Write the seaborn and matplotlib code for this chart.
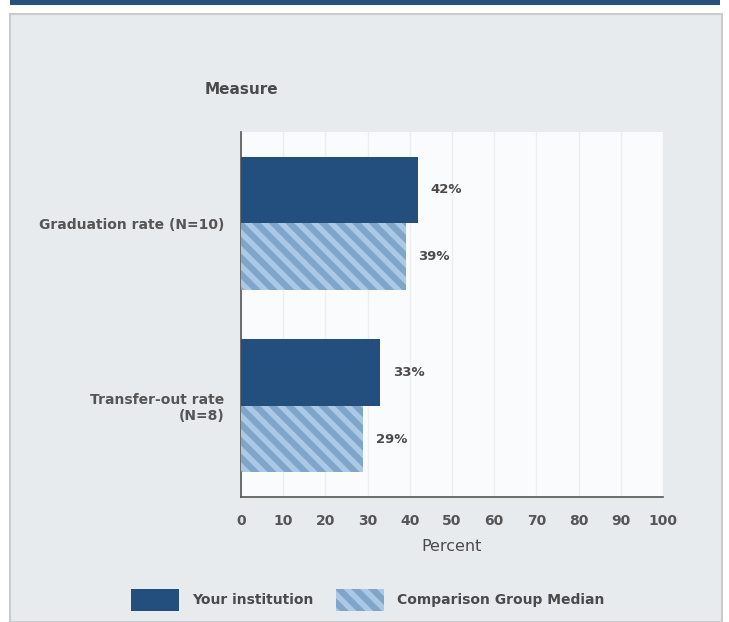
import seaborn as sns
import matplotlib.pyplot as plt
import pandas as pd
from matplotlib.patches import Rectangle, Patch

# -------------------------------
# Data
# -------------------------------
measures = ["Graduation rate (N=10)", "Transfer-out rate\n(N=8)"]
groups = ["Your institution", "Comparison Group Median"]
your_values = [42, 33]
median_values = [39, 29]
x_ticks = [0, 10, 20, 30, 40, 50, 60, 70, 80, 90, 100]

df = pd.DataFrame({
    "Measure": measures * 2,
    "Group": [groups[0]] * 2 + [groups[1]] * 2,
    "Percent": your_values + median_values,
})

dark = "#234f7f"
light = "#a9c9e6"
stripe = "#7fa6c9"
text_col = "#4a4a4a"

sns.set_theme(style="white")
plt.rcParams["font.family"] = ["DejaVu Sans"]
plt.rcParams["hatch.linewidth"] = 4.5

fig = plt.figure(figsize=(7.29, 6.22), dpi=100)
fig.patch.set_facecolor("white")

# grey panel and top stripe (behind the axes)
fig.patches.append(Rectangle((10 / 729, 0), 712 / 729, 608 / 622, transform=fig.transFigure,
                             facecolor="#e8ebee", edgecolor="#cbcbcb", lw=1.5, zorder=-10))
fig.patches.append(Rectangle((10 / 729, 617 / 622), 710 / 729, 5 / 622, transform=fig.transFigure,
                             facecolor="#25507f", edgecolor="none", zorder=-10))

ax = fig.add_axes([241 / 729, 125 / 622, 422 / 729, 365 / 622])
ax.set_facecolor("#fafbfc")

sns.barplot(data=df, y="Measure", x="Percent", hue="Group", orient="h",
            palette=[dark, light], saturation=1, width=0.73, ax=ax, legend=False, zorder=3)

# hatch the comparison bars
for bar in ax.containers[1]:
    bar.set_hatch("\\\\")
    bar.set_edgecolor(stripe)
    bar.set_linewidth(0)
for bar in ax.containers[0]:
    bar.set_edgecolor(dark)
    bar.set_linewidth(0)

for cont in ax.containers:
    ax.bar_label(cont, fmt="%.0f%%", padding=9, fontsize=9.5, fontweight="bold", color=text_col)

ax.set_xlim(0, 100)
ax.set_ylim(1.5, -0.5)
ax.set_xticks(x_ticks)
ax.set_xticklabels([str(t) for t in x_ticks], fontsize=10, fontweight="bold", color="#555555")
ax.tick_params(axis="x", length=0, pad=12)
ax.set_yticks([-0.5, 0.5, 1.5], minor=True)
ax.tick_params(axis="y", which="minor", length=8, width=1.2, color="#555555")
ax.tick_params(axis="y", which="major", length=0, pad=12)
for lbl in ax.get_yticklabels():
    lbl.set_fontweight("bold")
    lbl.set_fontsize(10)
    lbl.set_color("#555555")
    lbl.set_multialignment("right")

ax.grid(axis="x", color="#eceef0", lw=1, zorder=0)
ax.set_axisbelow(True)
for s in ["top", "right"]:
    ax.spines[s].set_visible(False)
for s in ["left", "bottom"]:
    ax.spines[s].set_color("#555555")
    ax.spines[s].set_linewidth(1.2)

ax.set_ylabel("")
ax.set_xlabel("Percent", fontsize=11.5, color=text_col, labelpad=8)

fig.text(241 / 729, 532 / 622, "Measure", ha="center", va="center",
         fontsize=11, fontweight="bold", color=text_col)

handles = [Patch(facecolor=dark, edgecolor=dark, lw=0),
           Patch(facecolor=light, edgecolor=stripe, hatch="\\\\", lw=0)]
leg = fig.legend(handles, groups, loc="center", bbox_to_anchor=(368 / 729, 22 / 622),
                 ncol=2, frameon=False, handlelength=3.45, handleheight=1.95,
                 columnspacing=1.6, handletextpad=0.95,
                 prop={"size": 10, "weight": "bold"})
for t in leg.get_texts():
    t.set_color(text_col)

fig.savefig("out.png", dpi=100)
